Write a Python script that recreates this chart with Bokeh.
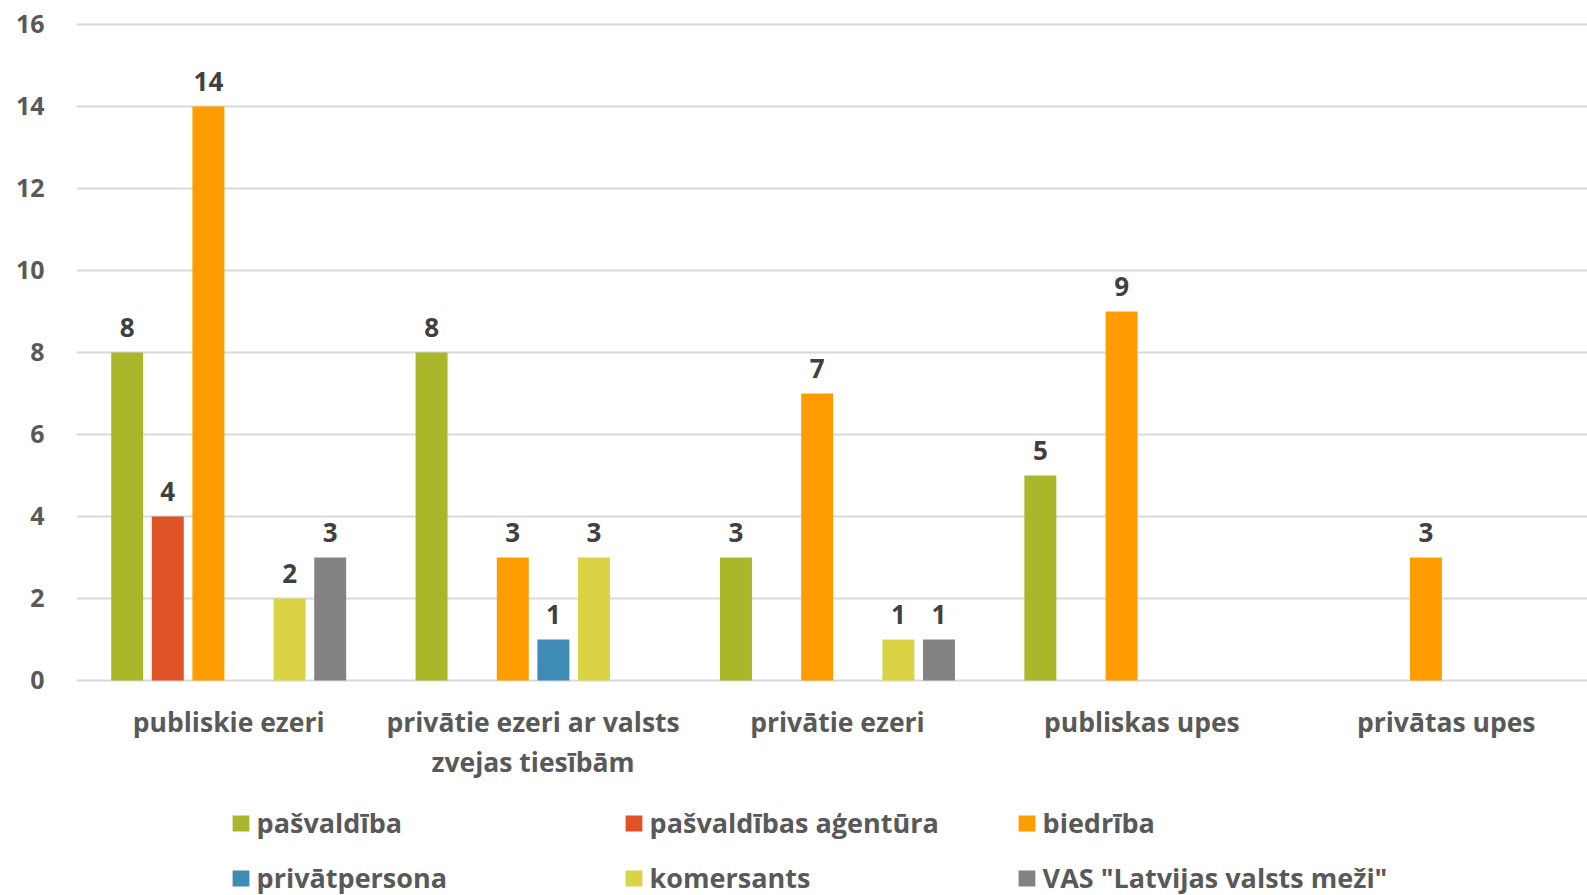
from bokeh.plotting import figure
from bokeh.models import Range1d, FixedTicker, Legend, LegendItem
from bokeh.embed import file_html
from bokeh.resources import INLINE
from bokeh.core.properties import value

categories = ["publiskie ezeri", "privātie ezeri ar valsts\nzvejas tiesībām",
              "privātie ezeri", "publiskas upes", "privātas upes"]
series_names = ["pašvaldība", "pašvaldības aģentūra", "biedrība",
                "privātpersona", "komersants", 'VAS "Latvijas valsts meži"']
colors = ["#A9B72B", "#E05327", "#FF9D00", "#3E8BB5", "#D9D345", "#838383"]
pasvaldiba = [8, 8, 3, 5, 0]
agentura = [4, 0, 0, 0, 0]
biedriba = [14, 3, 7, 9, 3]
privatpersona = [0, 1, 0, 0, 0]
komersants = [2, 3, 1, 0, 0]
vas = [3, 0, 1, 0, 0]
series_values = [pasvaldiba, agentura, biedriba, privatpersona, komersants, vas]
y_ticks = [0, 2, 4, 6, 8, 10, 12, 14, 16]

FONT = "Open Sans"
LABEL_COLOR = "#595959"

p = figure(width=1587, height=895, output_backend="svg", toolbar_location=None,
           x_range=Range1d(0, 4.964), y_range=Range1d(-5.246, 16.195),
           min_border_left=76, min_border_right=0, min_border_top=16,
           min_border_bottom=0)
p.outline_line_color = None
p.background_fill_color = "white"
p.border_fill_color = "white"

# grid
p.xgrid.grid_line_color = None
p.ygrid.ticker = FixedTicker(ticks=y_ticks)
p.ygrid.grid_line_color = "#D9D9D9"
p.ygrid.grid_line_width = 2

# y axis
p.yaxis.ticker = FixedTicker(ticks=y_ticks)
p.yaxis.axis_line_color = None
p.yaxis.major_tick_line_color = None
p.yaxis.minor_tick_line_color = None
p.yaxis.major_label_standoff = 26
p.yaxis.major_label_text_font = FONT
p.yaxis.major_label_text_font_style = "bold"
p.yaxis.major_label_text_font_size = "25px"
p.yaxis.major_label_text_color = LABEL_COLOR

# x axis (categories at centers), pinned at y = 0
centers = [i + 0.5 for i in range(len(categories))]
p.xaxis.fixed_location = 0
p.xaxis.ticker = FixedTicker(ticks=centers)
p.xaxis.major_label_overrides = {c: lab for c, lab in zip(centers, categories)}
p.xaxis.axis_line_color = None
p.xaxis.major_tick_line_color = None
p.xaxis.minor_tick_line_color = None
p.xaxis.major_label_standoff = 18
p.xaxis.major_label_text_font = FONT
p.xaxis.major_label_text_font_style = "bold"
p.xaxis.major_label_text_font_size = "26.5px"
p.xaxis.major_label_text_color = LABEL_COLOR
p.xaxis.major_label_text_line_height = 1.1

slot = 0.1334
bar_w = 0.105
items = []
n = len(series_names)
for i, (name, vals, col) in enumerate(zip(series_names, series_values, colors)):
    xs = [j + 0.5 + (i - (n - 1) / 2) * slot for j, v in enumerate(vals) if v > 0]
    tops = [v for v in vals if v > 0]
    r = p.vbar(x=xs, top=tops, width=bar_w, bottom=0, fill_color=col, line_color=None)
    p.text(x=xs, y=tops, text=[str(v) for v in tops], text_align="center",
           text_baseline="middle", y_offset=-25, text_font=value(FONT),
           text_font_style="bold", text_font_size="26px", text_color="#404040")
    items.append(LegendItem(label=name, renderers=[r]))

legend = Legend(items=items, location=(153.6, -1), orientation="horizontal", ncols=3,
                glyph_width=21, glyph_height=20, label_standoff=6, label_width=348,
                label_height=20, spacing=18, padding=0, margin=0,
                border_line_color=None, background_fill_alpha=0,
                label_text_font=FONT, label_text_font_style="bold",
                label_text_font_size="27px", label_text_color=LABEL_COLOR)
p.add_layout(legend)

open("out.html", "w").write(file_html(p, INLINE))
